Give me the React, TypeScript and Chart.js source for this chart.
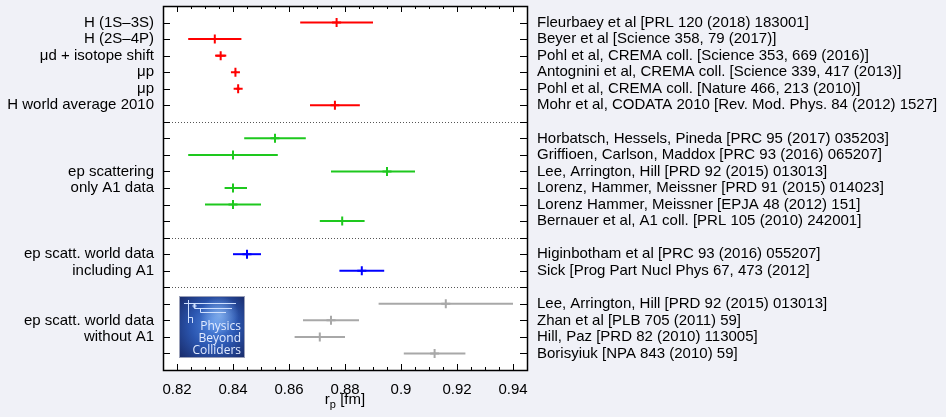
import React, { useEffect, useRef } from "react";
import { Chart, registerables } from "chart.js";

Chart.register(...registerables);

// ---------- data ----------
const X_MIN = 0.815;
const X_MAX = 0.945;
const ROW_MIN = 0;
const ROW_MAX = 22;

const refLabels = [
  "Fleurbaey et al [PRL 120 (2018) 183001]",
  "Beyer et al [Science 358, 79 (2017)]",
  "Pohl et al, CREMA coll. [Science 353, 669 (2016)]",
  "Antognini et al, CREMA coll. [Science 339, 417 (2013)]",
  "Pohl et al, CREMA coll. [Nature 466, 213 (2010)]",
  "Mohr et al, CODATA 2010 [Rev. Mod. Phys. 84 (2012) 1527]",
  "Horbatsch, Hessels, Pineda [PRC 95 (2017) 035203]",
  "Griffioen, Carlson, Maddox [PRC 93 (2016) 065207]",
  "Lee, Arrington, Hill [PRD 92 (2015) 013013]",
  "Lorenz, Hammer, Meissner [PRD 91 (2015) 014023]",
  "Lorenz Hammer, Meissner [EPJA 48 (2012) 151]",
  "Bernauer et al, A1 coll. [PRL 105 (2010) 242001]",
  "Higinbotham et al [PRC 93 (2016) 055207]",
  "Sick [Prog Part Nucl Phys 67, 473 (2012]",
  "Lee, Arrington, Hill [PRD 92 (2015) 013013]",
  "Zhan et al [PLB 705 (2011) 59]",
  "Hill, Paz [PRD 82 (2010) 113005]",
  "Borisyiuk [NPA 843 (2010) 59]",
];
const rowPositions = [1, 2, 3, 4, 5, 6, 8, 9, 10, 11, 12, 13, 15, 16, 18, 19, 20, 21];
const rpValues = [
  0.877, 0.8335, 0.8356, 0.84087, 0.84184, 0.8764,
  0.855, 0.84, 0.895, 0.84, 0.84, 0.879,
  0.845, 0.886,
  0.916, 0.875, 0.871, 0.912,
];
const errMinus = [
  0.013, 0.0095, 0.002, 0.00039, 0.00067, 0.0089,
  0.011, 0.016, 0.02, 0.003, 0.01, 0.008,
  0.005, 0.008,
  0.024, 0.01, 0.009, 0.011,
];
const errPlus = [
  0.013, 0.0095, 0.002, 0.00039, 0.00067, 0.0089,
  0.011, 0.016, 0.01, 0.005, 0.01, 0.008,
  0.005, 0.008,
  0.024, 0.01, 0.009, 0.011,
];
const groupIndex = [0, 0, 0, 0, 0, 0, 1, 1, 1, 1, 1, 1, 2, 2, 3, 3, 3, 3];
const groupColors = ["#ff0000", "#1ec81e", "#0000ff", "#a8a8a8"];

const methodLabels = [
  "H (1S\u20133S)",
  "H (2S\u20134P)",
  "\u03bcd + isotope shift",
  "\u03bcp",
  "\u03bcp",
  "H world average 2010",
  "ep scattering",
  "only A1 data",
  "ep scatt. world data",
  "including A1",
  "ep scatt. world data",
  "without A1",
];
const methodRows = [1, 2, 3, 4, 5, 6, 10, 11, 15, 16, 19, 20];
const separatorRows = [7, 14, 17];
const xLabelValues = [0.82, 0.84, 0.86, 0.88, 0.9, 0.92, 0.94];
const X_STEP = 0.005;

// logo placement in data coordinates
const logoX = [0.821, 0.8438];
const logoY = [17.6, 21.2];

const FONT = "'Liberation Sans', Arial, Helvetica, sans-serif";
const FONT_SIZE = 15;
const BG = "#f0f1f7";

const isLabelTick = (v: number) => xLabelValues.some((l) => Math.abs(l - v) < 1e-6);

const decorPlugin = {
  id: "decor",
  beforeDraw(chart: any) {
    const { ctx, chartArea: a } = chart;
    ctx.save();
    ctx.fillStyle = BG;
    ctx.fillRect(0, 0, chart.width, chart.height);
    ctx.fillStyle = "#ffffff";
    ctx.fillRect(a.left, a.top, a.right - a.left, a.bottom - a.top);
    ctx.restore();
  },
  beforeDatasetsDraw(chart: any) {
    const { ctx, chartArea: a, scales } = chart;
    const xs = scales.x;
    const ys = scales.y;
    ctx.save();
    // separators
    ctx.strokeStyle = "#555555";
    ctx.lineWidth = 1;
    ctx.setLineDash([1, 2]);
    separatorRows.forEach((r) => {
      const y = Math.round(ys.getPixelForValue(r)) + 0.5;
      ctx.beginPath();
      ctx.moveTo(a.left, y);
      ctx.lineTo(a.right, y);
      ctx.stroke();
    });
    ctx.setLineDash([]);
    // logo
    const lx0 = Math.round(xs.getPixelForValue(logoX[0]));
    const lx1 = Math.round(xs.getPixelForValue(logoX[1]));
    const ly0 = Math.round(ys.getPixelForValue(logoY[0]));
    const ly1 = Math.round(ys.getPixelForValue(logoY[1]));
    const w = lx1 - lx0;
    const h = ly1 - ly0;
    ctx.fillStyle = "#9aa0b8";
    ctx.fillRect(lx0 - 1, ly0 - 1, w + 2, h + 2);
    const g = ctx.createRadialGradient(lx0 + w * 0.55, ly0 + h * 0.45, 2, lx0 + w * 0.5, ly0 + h * 0.5, w * 0.75);
    g.addColorStop(0, "#4f86e0");
    g.addColorStop(0.45, "#2b56b0");
    g.addColorStop(1, "#16245e");
    ctx.fillStyle = g;
    ctx.fillRect(lx0, ly0, w, h);
    const g2 = ctx.createRadialGradient(lx0 + w * 0.62, ly0 + h * 0.3, 1, lx0 + w * 0.62, ly0 + h * 0.3, w * 0.3);
    g2.addColorStop(0, "rgba(170,210,255,0.55)");
    g2.addColorStop(1, "rgba(170,210,255,0)");
    ctx.fillStyle = g2;
    ctx.fillRect(lx0, ly0, w, h);
    // circuit lines
    ctx.strokeStyle = "#cfe0ff";
    ctx.lineWidth = 1;
    ctx.beginPath();
    ctx.moveTo(lx0 + 4, ly0 + 6.5);
    ctx.lineTo(lx0 + w - 8, ly0 + 6.5);
    ctx.moveTo(lx0 + 8.5, ly0 + 3);
    ctx.lineTo(lx0 + 8.5, ly0 + 26);
    ctx.moveTo(lx0 + 14.5, ly0 + 6.5);
    ctx.lineTo(lx0 + 14.5, ly0 + 11.5);
    ctx.lineTo(lx0 + w - 12, ly0 + 11.5);
    ctx.moveTo(lx0 + 20.5, ly0 + 11.5);
    ctx.lineTo(lx0 + 20.5, ly0 + 15.5);
    ctx.lineTo(lx0 + w - 18, ly0 + 15.5);
    ctx.moveTo(lx0 + 8.5, ly0 + 20.5);
    ctx.lineTo(lx0 + 12.5, ly0 + 20.5);
    ctx.lineTo(lx0 + 12.5, ly0 + 26);
    ctx.stroke();
    ctx.beginPath();
    ctx.arc(lx0 + 14.5, ly0 + 9, 1.5, 0, Math.PI * 2);
    ctx.stroke();
    ctx.fillStyle = "#e2ebff";
    ctx.font = `12px 'Open Sans', ${FONT}`;
    ctx.textAlign = "right";
    ctx.textBaseline = "middle";
    ctx.fillText("Physics", lx1 - 3, ly0 + h * 0.5);
    ctx.fillText("Beyond", lx1 - 3, ly0 + h * 0.7);
    ctx.fillText("Colliders", lx1 - 3, ly0 + h * 0.9);
    ctx.restore();
  },
  afterDraw(chart: any) {
    const { ctx, chartArea: a, scales } = chart;
    const xs = scales.x;
    const ys = scales.y;
    ctx.save();
    ctx.strokeStyle = "#000000";
    ctx.lineWidth = 1;
    ctx.beginPath();
    // x ticks (bottom + top, inward)
    xs.ticks.forEach((t: any) => {
      const px = Math.round(xs.getPixelForValue(t.value)) + 0.5;
      const len = isLabelTick(t.value) ? 6 : 3;
      ctx.moveTo(px, a.bottom);
      ctx.lineTo(px, a.bottom - len);
      ctx.moveTo(px, a.top);
      ctx.lineTo(px, a.top + len);
    });
    // y ticks (left + right, inward)
    for (let r = ROW_MIN + 1; r < ROW_MAX; r++) {
      const py = Math.round(ys.getPixelForValue(r)) + 0.5;
      ctx.moveTo(a.left, py);
      ctx.lineTo(a.left + 7, py);
      ctx.moveTo(a.right, py);
      ctx.lineTo(a.right - 7, py);
    }
    ctx.stroke();
    // frame
    ctx.lineWidth = 1.5;
    ctx.strokeRect(Math.round(a.left) + 0.5, Math.round(a.top) + 0.5, Math.round(a.right - a.left), Math.round(a.bottom - a.top));
    // axis title r_p [fm]
    ctx.fillStyle = "#000000";
    ctx.textBaseline = "alphabetic";
    ctx.textAlign = "left";
    const cx = (a.left + a.right) / 2;
    const base = a.bottom + 34;
    ctx.font = `${FONT_SIZE}px ${FONT}`;
    const wr = ctx.measureText("r").width;
    const wf = ctx.measureText(" [fm]").width;
    ctx.font = `11px ${FONT}`;
    const wp = ctx.measureText("p").width;
    const start = cx - (wr + wp + wf) / 2;
    ctx.font = `${FONT_SIZE}px ${FONT}`;
    ctx.fillText("r", start, base);
    ctx.font = `11px ${FONT}`;
    ctx.fillText("p", start + wr, base + 4);
    ctx.font = `${FONT_SIZE}px ${FONT}`;
    ctx.fillText(" [fm]", start + wr + wp, base);
    ctx.restore();
  },
};

const fitVertical = (width: number) => (s: any) => {
  s.width = width;
  s.paddingTop = 0;
  s.paddingBottom = 0;
};

export default function App() {
  const canvasRef = useRef<HTMLCanvasElement | null>(null);

  useEffect(() => {
    if (!canvasRef.current) return;

    const pointSets = groupColors.map((color, gi) => ({
      type: "scatter" as const,
      data: rpValues
        .map((v, i) => ({ x: v, y: rowPositions[i], g: groupIndex[i] }))
        .filter((p) => p.g === gi)
        .map((p) => ({ x: p.x, y: p.y })),
      pointStyle: "cross",
      pointRadius: 4.5,
      pointBorderWidth: 2,
      borderColor: color,
      backgroundColor: color,
      showLine: false,
      order: 0,
    }));

    const errorSets = rpValues.map((v, i) => ({
      type: "scatter" as const,
      data: [
        { x: v - errMinus[i], y: rowPositions[i] },
        { x: v + errPlus[i], y: rowPositions[i] },
      ],
      showLine: true,
      pointRadius: 0,
      borderWidth: 2,
      borderColor: groupColors[groupIndex[i]],
      backgroundColor: groupColors[groupIndex[i]],
      order: 1,
    }));

    const tickFont = { family: FONT, size: FONT_SIZE };

    const chart = new Chart(canvasRef.current, {
      type: "scatter",
      data: { datasets: [...errorSets, ...pointSets] as any },
      plugins: [decorPlugin],
      options: {
        animation: false,
        responsive: true,
        maintainAspectRatio: false,
        layout: { autoPadding: false, padding: { top: 6, left: 0, right: 0, bottom: 0 } },
        plugins: {
          legend: { display: false },
          tooltip: { enabled: false },
          title: { display: false },
        },
        scales: {
          x: {
            type: "linear",
            position: "bottom",
            min: X_MIN,
            max: X_MAX,
            grid: { display: false, drawTicks: false },
            border: { display: false },
            afterFit: (s: any) => {
              s.height = 47;
              s.paddingLeft = 0;
              s.paddingRight = 0;
            },
            ticks: {
              stepSize: X_STEP,
              autoSkip: false,
              maxRotation: 0,
              padding: 11,
              color: "#000000",
              font: tickFont,
              callback: (v: any) => (isLabelTick(Number(v)) ? String(parseFloat(Number(v).toFixed(3))) : ""),
            },
          },
          y: {
            type: "linear",
            position: "left",
            min: ROW_MIN,
            max: ROW_MAX,
            reverse: true,
            grid: { display: false, drawTicks: false },
            border: { display: false },
            afterFit: fitVertical(163),
            ticks: {
              stepSize: 1,
              autoSkip: false,
              padding: 9,
              color: "#000000",
              font: tickFont,
              callback: (v: any) => {
                const k = methodRows.indexOf(Number(v));
                return k >= 0 ? methodLabels[k] : "";
              },
            },
          },
          yRight: {
            type: "linear",
            position: "right",
            display: true,
            min: ROW_MIN,
            max: ROW_MAX,
            reverse: true,
            grid: { display: false, drawTicks: false },
            border: { display: false },
            afterFit: fitVertical(419),
            ticks: {
              stepSize: 1,
              autoSkip: false,
              padding: 10,
              color: "#000000",
              font: tickFont,
              callback: (v: any) => {
                const k = rowPositions.indexOf(Number(v));
                return k >= 0 ? refLabels[k] : "";
              },
            },
          },
        },
      } as any,
    });

    return () => chart.destroy();
  }, []);

  return (
    <div
      style={{
        position: "fixed",
        left: 0,
        top: 0,
        width: 946,
        height: 417,
        background: BG,
      }}
    >
      <canvas ref={canvasRef} />
    </div>
  );
}
